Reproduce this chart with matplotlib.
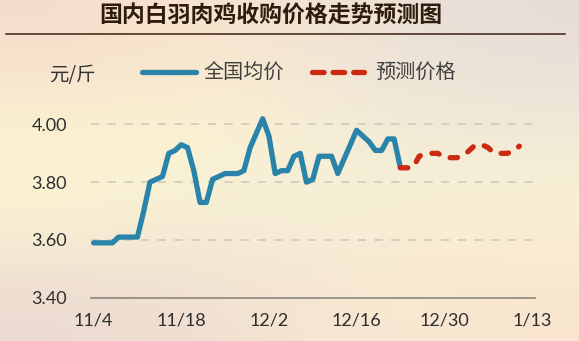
import matplotlib
matplotlib.use("Agg")
import matplotlib.pyplot as plt
import numpy as np
from matplotlib.colors import to_rgb

plt.rcParams['font.family'] = ['Noto Sans CJK SC', 'DejaVu Sans']

# 每日价格，11/4 起算
tick_labels = ["11/4", "11/18", "12/2", "12/16", "12/30", "1/13"]
n_days = 71
national_avg = [3.59, 3.59, 3.59, 3.59, 3.61, 3.61, 3.61, 3.61, 3.70, 3.80,
                3.81, 3.82, 3.90, 3.91, 3.93, 3.92, 3.84, 3.73, 3.73, 3.81,
                3.82, 3.83, 3.83, 3.83, 3.84, 3.92, 3.97, 4.02, 3.96, 3.83,
                3.84, 3.84, 3.89, 3.90, 3.80, 3.81, 3.89, 3.89, 3.89, 3.83,
                3.88, 3.93, 3.98, 3.96, 3.94, 3.91, 3.91, 3.95, 3.95, 3.85]
forecast = [3.85, 3.85, 3.85, 3.89, 3.90, 3.90, 3.90, 3.885, 3.885, 3.885,
            3.89, 3.91, 3.93, 3.93, 3.92, 3.90, 3.90, 3.90, 3.905, 3.925]
forecast_start = len(national_avg) - 1

blue = "#2a84aa"
red = "#cc2a10"

fig = plt.figure(figsize=(5.79, 3.41), dpi=100)

# 渐变背景
bg = fig.add_axes([0, 0, 1, 1], zorder=-10)
grid_cols = [
    ["#f5dccb", "#f9e5cf", "#eee2d6", "#e7ddd7"],
    ["#fbf2d1", "#fcf4d1", "#f3ecd7", "#f0e9d9"],
    ["#fbf4d3", "#f6efd8", "#f7f0d6", "#fbf3d2"],
    ["#ecdad1", "#f0e0d1", "#f9e8d2", "#f8e4cf"],
]
img = np.array([[to_rgb(c) for c in row] for row in grid_cols])
bg.imshow(img, extent=[0, 1, 0, 1], aspect="auto", interpolation="bicubic")
bg.axis("off")

W, H = 579, 341
def fx(px):
    return px / W
def fy(py):
    return 1 - py / H

# 标题与下划线
fig.text(fx(271), fy(16), "国内白羽肉鸡收购价格走势预测图", fontsize=16.5,
         fontweight="bold", color="#2e1c0c", ha="center", va="center")
fig.add_artist(plt.Line2D([fx(6), fx(565)], [fy(33.5), fy(33.5)],
                          color="#3a2210", lw=1.1))

ax = fig.add_axes([fx(90.5), 0.127, fx(535) - fx(90.5), 0.5926])
ax.set_facecolor("none")
ax.set_xlim(-0.5, n_days - 0.5)
ax.set_ylim(3.40, 4.10)

for v in [3.6, 3.8, 4.0]:
    ax.axhline(v, color="#cfcabd", lw=1.2, dashes=(5, 5), zorder=1)

for s in ["top", "right", "left"]:
    ax.spines[s].set_visible(False)
ax.spines["bottom"].set_color("#8c8780")
ax.spines["bottom"].set_linewidth(1.2)

x_blue = np.arange(len(national_avg))
x_red = np.arange(forecast_start, forecast_start + len(forecast))
ax.plot(x_blue, national_avg, color=blue, lw=3.8, solid_joinstyle="round",
        solid_capstyle="round", zorder=3)
ax.plot(x_red, forecast, color=red, lw=3.8, linestyle=(0, (1.4, 2.3)),
        dash_capstyle="round", zorder=3)

ax.set_yticks([3.4, 3.6, 3.8, 4.0])
ax.set_yticklabels(["3.40", "3.60", "3.80", "4.00"])
ax.set_xticks(np.arange(0, n_days, 14))
ax.set_xticklabels(tick_labels)
ax.tick_params(axis="y", length=0, pad=17, labelsize=13, labelcolor="#2e2e2e")
ax.tick_params(axis="x", length=0, pad=11, labelsize=13, labelcolor="#2e2e2e")
for lab in ax.get_xticklabels() + ax.get_yticklabels():
    lab.set_family(["Lato", "DejaVu Sans"])

# 图例
fig.text(fx(49), fy(76), "元/斤", fontsize=14, color="#333333",
         ha="left", va="center")
fig.add_artist(plt.Line2D([fx(142), fx(196)], [fy(72), fy(72)], color=blue,
                          lw=3.8, solid_capstyle="round"))
fig.text(fx(203), fy(72), "全国均价", fontsize=14.5, color="#404040",
         ha="left", va="center")
fig.add_artist(plt.Line2D([fx(312), fx(364)], [fy(72), fy(72)], color=red,
                          lw=3.8, linestyle=(0, (2.2, 1.7)),
                          dash_capstyle="round"))
fig.text(fx(375), fy(72), "预测价格", fontsize=14.5, color="#404040",
         ha="left", va="center")

fig.savefig("out.png", dpi=100)
